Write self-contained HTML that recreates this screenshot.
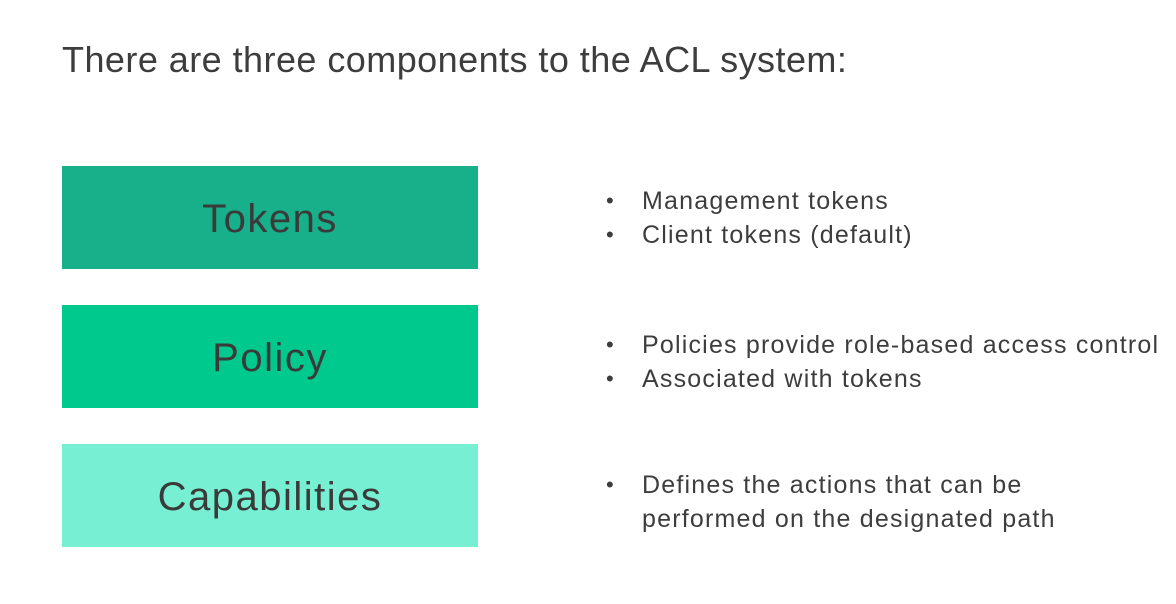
<!DOCTYPE html>
<html><head><meta charset="utf-8"><style>
body{margin:0;width:1176px;height:604px;background:#fff;font-family:"Liberation Sans",sans-serif;color:#3d3d3d;position:relative;overflow:hidden}
.t{position:absolute;left:62px;top:39px;font-size:36px;letter-spacing:0.45px;white-space:nowrap}
.box{position:absolute;left:62px;width:416px;height:103px;box-sizing:border-box;padding-top:4px;display:flex;align-items:center;justify-content:center;font-size:40px;letter-spacing:1.5px;color:#3a3a3a}
.b{position:absolute;left:642px;font-size:25px;letter-spacing:1.2px;white-space:nowrap;line-height:34px}
.d{position:absolute;left:606px;font-size:22px;line-height:34px}
</style></head><body>
<div class="t">There are three components to the ACL system:</div>
<div class="box" style="top:166px;background:#17b08a">Tokens</div>
<div class="box" style="top:305px;background:#00c98d">Policy</div>
<div class="box" style="top:444px;background:#76efd3">Capabilities</div>
<div class="d" style="top:184px">•</div><div class="b" style="top:184px">Management tokens</div>
<div class="d" style="top:218px">•</div><div class="b" style="top:218px">Client tokens (default)</div>
<div class="d" style="top:328px">•</div><div class="b" style="top:328px">Policies provide role-based access control</div>
<div class="d" style="top:362px">•</div><div class="b" style="top:362px">Associated with tokens</div>
<div class="d" style="top:468px">•</div><div class="b" style="top:468px">Defines the actions that can be<br>performed on the designated path</div>
</body></html>
